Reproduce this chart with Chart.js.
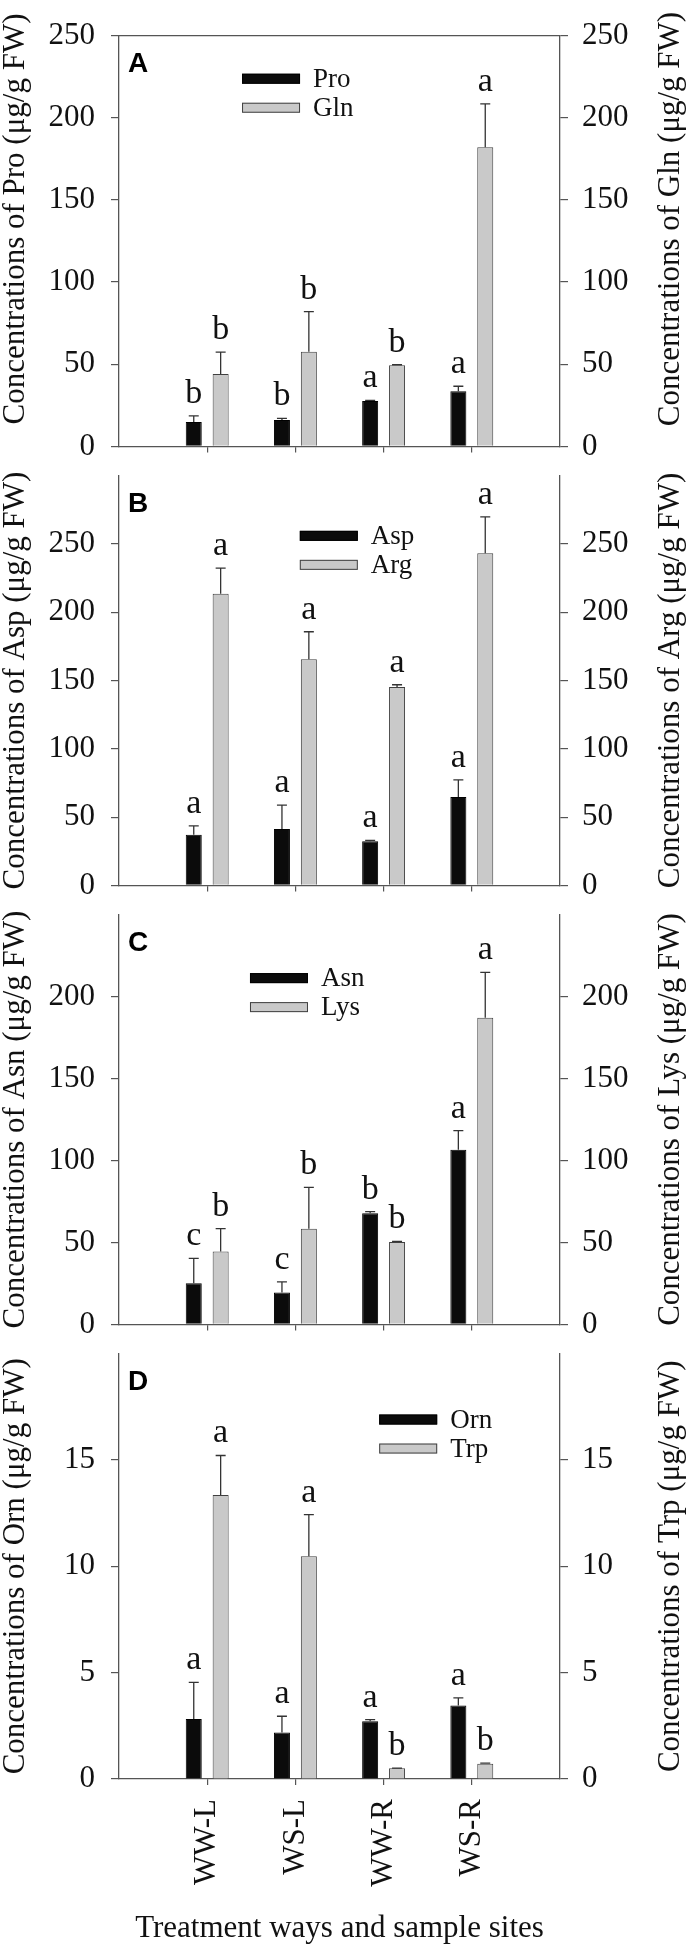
<!DOCTYPE html>
<html>
<head>
<meta charset="utf-8">
<script src="https://cdn.jsdelivr.net/npm/chart.js@4.4.1/dist/chart.umd.min.js"></script>
<style>
  html, body { margin: 0; padding: 0; background: #fff; }
  #page { position: relative; width: 687px; height: 1949px; overflow: hidden; background: #fff; }
  .panel { position: absolute; left: 0; width: 687px; }
</style>
</head>
<body>
<div id="page"></div>
<script>
// treatment / sample site groups
const categories = ['WW-L', 'WS-L', 'WW-R', 'WS-R'];

// A: Pro / Gln
const proMean = [14.8, 16.0, 27.6, 33.6];
const proErr = [3.8, 1.0, 0.4, 3.0];
const proLetters = ['b', 'b', 'a', 'a'];
const glnMean = [44.0, 57.6, 49.4, 182.0];
const glnErr = [13.4, 24.4, 0.3, 26.4];
const glnLetters = ['b', 'b', 'b', 'a'];

// B: Asp / Arg
const aspMean = [37.0, 41.2, 32.4, 64.8];
const aspErr = [6.6, 17.6, 0.6, 12.4];
const aspLetters = ['a', 'a', 'a', 'a'];
const argMean = [213.5, 165.5, 145.3, 243.2];
const argErr = [18.8, 20.2, 1.6, 26.6];
const argLetters = ['a', 'a', 'a', 'a'];

// C: Asn / Lys
const asnMean = [25.1, 19.4, 67.8, 106.6];
const asnErr = [15.2, 6.6, 1.0, 11.6];
const asnLetters = ['c', 'c', 'b', 'a'];
const lysMean = [44.5, 58.3, 50.3, 187.0];
const lysErr = [13.9, 25.3, 0.3, 27.8];
const lysLetters = ['b', 'b', 'b', 'a'];

// D: Orn / Trp
const ornMean = [2.82, 2.19, 2.71, 3.46];
const ornErr = [1.72, 0.76, 0.08, 0.35];
const ornLetters = ['a', 'a', 'a', 'a'];
const trpMean = [13.35, 10.47, 0.51, 0.72];
const trpErr = [1.86, 1.96, 0.0, 0.03];
const trpLetters = ['a', 'a', 'b', 'b'];

// tick labels per panel
const ticksA = [0, 50, 100, 150, 200, 250];
const ticksB = [0, 50, 100, 150, 200, 250];
const ticksC = [0, 50, 100, 150, 200];
const ticksD = [0, 5, 10, 15];

const xTitle = 'Treatment ways and sample sites';

const panels = [
  { tag: 'A', names: ['Pro', 'Gln'], means: [proMean, glnMean], errs: [proErr, glnErr],
    letters: [proLetters, glnLetters], max: 250, ticks: ticksA, legendAt: { x: 0.279, y: 0.105 },
    frameTop: true, titleShift: -22 },
  { tag: 'B', names: ['Asp', 'Arg'], means: [aspMean, argMean], errs: [aspErr, argErr],
    letters: [aspLetters, argLetters], max: 300, ticks: ticksB, legendAt: { x: 0.41, y: 0.147 } },
  { tag: 'C', names: ['Asn', 'Lys'], means: [asnMean, lysMean], errs: [asnErr, lysErr],
    letters: [asnLetters, lysLetters], max: 250, ticks: ticksC, legendAt: { x: 0.297, y: 0.155 } },
  { tag: 'D', names: ['Orn', 'Trp'], means: [ornMean, trpMean], errs: [ornErr, trpErr],
    letters: [ornLetters, trpLetters], max: 20, ticks: ticksD, legendAt: { x: 0.59, y: 0.155 } },
];

// page layout (px): panel edges from top of A to bottom of D
const edges = [21, 461, 900, 1339, 1779];
const pageHeight = 1949;
const serif = '"Liberation Serif", "Times New Roman", serif';
const axisColor = '#555';
const textColor = '#111';

const errorBars = {
  id: 'errorBars',
  afterDatasetsDraw(chart) {
    const ctx = chart.ctx;
    ctx.save();
    chart.data.datasets.forEach((ds, di) => {
      const meta = chart.getDatasetMeta(di);
      const yScale = chart.scales[meta.yAxisID];
      meta.data.forEach((bar, i) => {
        const v = ds.data[i];
        if (v == null) return;
        const top = yScale.getPixelForValue(v);
        const yErr = yScale.getPixelForValue(v + ds.errors[i]);
        ctx.strokeStyle = '#333';
        ctx.lineWidth = 1.3;
        ctx.beginPath();
        ctx.moveTo(bar.x, top);
        ctx.lineTo(bar.x, yErr);
        ctx.moveTo(bar.x - 5, yErr);
        ctx.lineTo(bar.x + 5, yErr);
        ctx.stroke();
        ctx.fillStyle = textColor;
        ctx.font = '34px ' + serif;
        ctx.textAlign = 'center';
        ctx.textBaseline = 'alphabetic';
        ctx.fillText(ds.letters[i], bar.x, yErr - 13);
      });
    });
    ctx.restore();
  }
};

const boxLegend = {
  id: 'boxLegend',
  afterDraw(chart, args, opts) {
    const { ctx, chartArea: a } = chart;
    const x0 = a.left + opts.x * (a.right - a.left);
    let y = a.top + opts.y * (a.bottom - a.top);
    ctx.save();
    ctx.font = '27px ' + serif;
    ctx.textBaseline = 'middle';
    ctx.textAlign = 'left';
    chart.data.datasets.forEach(ds => {
      ctx.fillStyle = ds.backgroundColor;
      ctx.fillRect(x0, y - 5, 58, 10);
      ctx.strokeStyle = ds.borderColor;
      ctx.lineWidth = 1;
      ctx.strokeRect(x0 + 0.5, y - 4.5, 57, 9);
      ctx.fillStyle = textColor;
      ctx.fillText(ds.label, x0 + 71, y + 1);
      y += 29;
    });
    ctx.restore();
  }
};

const panelDecor = {
  id: 'panelDecor',
  afterDraw(chart, args, opts) {
    const { ctx, chartArea: a } = chart;
    ctx.save();
    // panel letter
    ctx.fillStyle = '#000';
    ctx.font = 'bold 28px "Liberation Sans", Arial, sans-serif';
    ctx.textAlign = 'left';
    ctx.textBaseline = 'alphabetic';
    ctx.fillText(opts.tag, a.left + 9, a.top + 36);
    // top frame line only on the first panel
    if (opts.frameTop) {
      ctx.strokeStyle = axisColor;
      ctx.lineWidth = 1.3;
      ctx.beginPath();
      ctx.moveTo(a.left, a.top);
      ctx.lineTo(a.right, a.top);
      ctx.stroke();
    }
    // both axis titles read bottom to top
    const midY = (a.top + a.bottom) / 2 + (opts.titleShift || 0);
    ctx.font = '31px ' + serif;
    ctx.textAlign = 'center';
    ctx.textBaseline = 'middle';
    ctx.fillStyle = textColor;
    [[16, opts.leftTitle], [chart.width - 16, opts.rightTitle]].forEach(([x, text]) => {
      ctx.save();
      ctx.translate(x, midY);
      ctx.rotate(-Math.PI / 2);
      ctx.fillText(text, 0, 0);
      ctx.restore();
    });
    ctx.restore();
  }
};

const page = document.getElementById('page');
const labels = ['', ...categories, ''];
const pad = arr => [null, ...arr, null];

panels.forEach((p, i) => {
  const isLast = i === panels.length - 1;
  const top = edges[i];
  const bottom = edges[i + 1];
  const padTop = 20;
  const xh = isLast ? pageHeight - bottom : 20;

  const div = document.createElement('div');
  div.className = 'panel';
  div.style.top = (top - padTop) + 'px';
  div.style.height = (padTop + bottom - top + xh) + 'px';
  const canvas = document.createElement('canvas');
  div.appendChild(canvas);
  page.appendChild(div);

  const yAxis = (position, padding) => ({
    position,
    min: 0,
    max: p.max,
    afterBuildTicks: s => { s.ticks = p.ticks.map(v => ({ value: v })); },
    afterFit: s => { s.width = position === 'left' ? 119 : 127; },
    grid: { drawOnChartArea: false, drawTicks: true, tickLength: 8, color: axisColor, lineWidth: 1.2 },
    border: { display: true, color: axisColor, width: 1.3 },
    ticks: { font: { family: serif, size: 31 }, color: textColor, padding }
  });

  new Chart(canvas, {
    type: 'bar',
    data: {
      labels,
      datasets: [0, 1].map(k => ({
        label: p.names[k],
        data: pad(p.means[k]),
        errors: pad(p.errs[k]),
        letters: pad(p.letters[k]),
        backgroundColor: k === 0 ? '#0b0b0b' : '#c9c9c9',
        borderColor: k === 0 ? '#000' : '#404040',
        borderWidth: 1,
        yAxisID: k === 0 ? 'y' : 'y2',
        categoryPercentage: 0.61,
        barPercentage: 0.595
      }))
    },
    options: {
      responsive: true,
      maintainAspectRatio: false,
      animation: false,
      events: [],
      layout: { padding: { top: padTop, left: 0, right: 0, bottom: 0 } },
      plugins: {
        legend: { display: false },
        tooltip: { enabled: false },
        boxLegend: p.legendAt,
        panelDecor: {
          tag: p.tag,
          frameTop: !!p.frameTop,
          titleShift: p.titleShift || 0,
          leftTitle: 'Concentrations of ' + p.names[0] + ' (μg/g FW)',
          rightTitle: 'Concentrations of ' + p.names[1] + ' (μg/g FW)'
        }
      },
      scales: {
        x: {
          offset: false,
          afterFit: s => { s.height = xh; },
          grid: {
            offset: false,
            drawOnChartArea: false,
            drawTicks: true,
            tickLength: 6,
            lineWidth: 1.2,
            tickColor: c => (c.index === 0 || c.index === labels.length - 1) ? 'rgba(0,0,0,0)' : axisColor
          },
          border: { display: true, color: axisColor, width: 1.3 },
          ticks: {
            display: isLast,
            autoSkip: false,
            minRotation: 90,
            maxRotation: 90,
            padding: 14,
            font: { family: serif, size: 31 },
            color: textColor
          },
          title: {
            display: isLast,
            text: xTitle,
            font: { family: serif, size: 31, lineHeight: 1 },
            color: textColor,
            padding: { top: 0, bottom: 5 }
          }
        },
        y: yAxis('left', 16),
        y2: yAxis('right', 14)
      }
    },
    plugins: [errorBars, boxLegend, panelDecor]
  });
});
</script>
</body>
</html>
